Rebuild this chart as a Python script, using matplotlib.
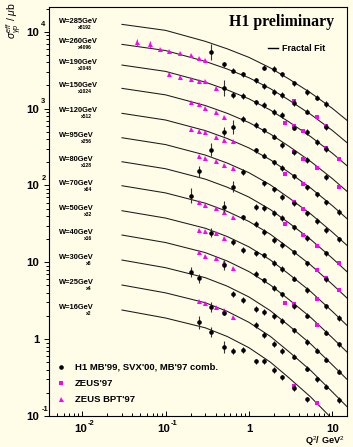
import numpy as np
import matplotlib
matplotlib.use('Agg')
import matplotlib.pyplot as plt
from matplotlib.transforms import blended_transform_factory

# ---------------- data (values as plotted, i.e. already multiplied by the scale factor)
W_GEV = [285, 260, 190, 150, 120, 95, 80, 70, 50, 40, 30, 25, 16]
SCALE = [8192, 4096, 2048, 1024, 512, 256, 128, 64, 32, 16, 8, 4, 2]

FIT_Q2 = [0.03, 0.1, 0.3, 0.55, 1.0, 1.8, 3.0, 5.5, 10.0, 15.0]
FIT = {
    285: [12480, 10430, 7502, 5991, 4644, 3391, 2438, 1603, 1008, 703.6],
    260: [6855, 5697, 4111, 3273, 2521, 1823, 1297, 841.1, 520.0, 360.4],
    190: [3687, 3050, 2207, 1752, 1340, 959.8, 675.0, 432.0, 262.8, 180.6],
    150: [1834, 1510, 1096, 867.9, 658.9, 467.7, 324.9, 205.2, 122.9, 83.83],
    120: [867.9, 710.6, 517.1, 408.1, 307.9, 216.5, 148.7, 92.64, 54.58, 36.97],
    95: [417.7, 340.3, 248.5, 195.5, 146.6, 102.0, 69.30, 42.59, 24.69, 16.60],
    80: [203.5, 165.0, 120.9, 94.80, 70.56, 48.68, 32.68, 19.82, 11.30, 7.541],
    70: [99.15, 79.98, 58.75, 45.95, 33.98, 23.22, 15.41, 9.220, 5.172, 3.426],
    50: [46.90, 37.64, 27.73, 21.63, 15.89, 10.75, 7.054, 4.163, 2.298, 1.511],
    40: [22.64, 18.08, 13.36, 10.39, 7.579, 5.080, 3.295, 1.919, 1.042, 0.6801],
    30: [10.70, 8.508, 6.306, 4.888, 3.541, 2.352, 1.508, 0.8666, 0.4632, 0.2999],
    25: [5.061, 4.004, 2.977, 2.300, 1.655, 1.089, 0.6902, 0.3913, 0.2058, 0.1323],
    16: [2.394, 1.884, 1.404, 1.082, 0.7739, 0.5040, 0.3159, 0.1767, 0.09139, 0.05832],
}

H1_REL_ERR = 0.08
H1 = {
    285: ([1.5, 2.0, 2.5, 3.5, 5.0, 6.5, 8.5], [3421, 3271, 2790, 2131, 1657, 1393, 1153]),
    260: ([0.5, 0.65, 0.85, 1.2, 1.5, 2.0, 2.5, 3.5, 5.0, 8.5],
          [3765, 3126, 2790, 2331, 1978, 1657, 1501, 1181, 915.6, 580.8]),
    190: ([0.65, 0.85, 1.2, 1.5, 2.0, 2.5, 3.5, 5.0, 6.5, 8.5],
          [1501, 1470, 1206, 1113, 910.2, 824.6, 567.0, 500.0, 370.5, 297.7]),
    150: ([0.85, 1.2, 1.5, 2.0, 2.5, 3.5, 5.0, 8.5],
          [733.6, 611.1, 524.5, 431.7, 335.6, 269.7, 216.1, 129.9]),
    120: ([1.2, 1.5, 2.0, 2.5, 3.5, 5.0, 6.5, 8.5, 12],
          [285.5, 244.3, 199.3, 170.0, 131.4, 94.52, 76.63, 60.30, 45.50]),
    95: ([0.85, 1.5, 2.0, 2.5, 3.5, 5.0, 6.5, 8.5, 12],
         [150.8, 106.6, 89.04, 71.32, 58.52, 43.37, 34.43, 26.30, 19.90]),
    80: ([1.2, 1.5, 2.0, 2.5, 3.5, 5.0, 8.5], [52.86, 51.30, 43.76, 37.68, 28.69, 20.88, 13.05]),
    70: ([0.85, 1.2, 1.5, 2.0, 2.5, 3.5, 5.0, 8.5],
         [38.71, 31.48, 24.99, 19.49, 16.78, 13.48, 9.727, 6.005]),
    50: ([0.65, 0.85, 1.2, 1.5, 2.0, 2.5, 3.5, 5.0, 8.5, 12],
         [18.52, 14.45, 13.09, 12.32, 9.815, 8.200, 6.150, 4.398, 2.674, 1.884]),
    40: ([1.2, 1.5, 2.0, 2.5, 3.5, 5.0, 8.5, 12],
         [7.040, 5.864, 4.627, 3.843, 2.699, 2.030, 1.216, 0.8541]),
    30: ([0.65, 0.85, 1.2, 1.5, 2.0, 2.5, 3.5, 5.0, 6.5, 8.5, 12],
         [3.866, 3.230, 2.466, 2.255, 2.000, 1.722, 1.303, 0.9178, 0.7092, 0.5434, 0.3780]),
    25: ([0.5, 1.2, 1.5, 2.0, 2.5, 3.5, 5.0, 6.5, 8.5, 12],
         [2.221, 1.536, 1.132, 0.8644, 0.7071, 0.5943, 0.4148, 0.3001, 0.2419, 0.1615]),
    16: ([0.65, 0.85, 1.2, 1.5, 2.0, 2.5, 3.5, 5.0],
         [0.7071, 0.7222, 0.5148, 0.5148, 0.3968, 0.3188, 0.2313, 0.1640]),
}

# low-Q2 H1 points with large errors: (Q2, value, lower edge, upper edge)
H1_LOWQ = {
    285: ([0.35], [5393], [4283], [6855]),
    190: ([0.5], [1879], [1457], [2352]),
    150: ([0.65], [575.4], [466.7], [710.0]),
    120: ([0.5], [500.0], [439.5], [575.4]),
    95: ([0.35], [293.3], [241.4], [356.3]),
    80: ([0.25, 0.65], [154.0, 96.23], [129.9, 82.12], [180.5, 114.1]),
    70: ([0.2, 0.5], [73.93, 52.86], [59.04, 45.09], [92.56, 62.71]),
    50: ([0.35], [24.26], [21.33], [27.93]),
    40: ([0.5], [9.218], [7.934], [10.70]),
    30: ([0.2, 0.25], [7.541, 6.187], [6.492, 5.375], [8.761, 7.040]),
    25: ([0.35], [2.642], [2.275], [3.070]),
    16: ([0.25, 0.35, 0.5], [1.656, 1.227, 0.7832], [1.355, 1.066, 0.6601], [2.000, 1.438, 0.9458]),
}

ZEUS97 = {
    260: ([3.5, 6.5, 8.5], [1265, 783.4, 601.9]),
    190: ([2.7, 3.5, 4.5, 8.5, 12], [642.9, 593.1, 515.1, 309.5, 220.6]),
    150: ([3.5, 4.5, 6.5, 12], [269.7, 220.6, 170.0, 96.23]),
    120: ([2.7, 4.5], [140.8, 103.4]),
    95: ([3.5, 4.5], [61.39, 49.34]),
    80: ([2.7, 4.5, 6.5, 12], [31.48, 22.92, 16.53, 9.699]),
    70: ([6.5, 8.5, 12], [7.934, 6.187, 4.358]),
    50: ([6.5], [3.328]),
    40: ([2.7, 3.5, 6.5], [2.997, 2.866, 1.527]),
    16: ([3.5, 6.5], [0.2478, 0.1463]),
}

BPT97 = {
    260: ([0.045, 0.065, 0.085, 0.11, 0.15, 0.2, 0.25, 0.3],
          [7278, 6855, 5902, 5609, 5234, 4975, 4588, 4283]),
    190: ([0.11, 0.15, 0.2, 0.25, 0.3, 0.4], [2790, 2597, 2403, 2283, 2283, 1868]),
    150: ([0.2, 0.25, 0.3, 0.4, 0.5], [1206, 1136, 1008, 894.0, 783.4]),
    120: ([0.2, 0.25, 0.3, 0.4, 0.5, 0.65], [537.2, 510.5, 491.1, 430.4, 389.8, 378.4]),
    95: ([0.25, 0.3, 0.4, 0.5, 0.65], [245.0, 230.8, 209.1, 187.1, 167.0]),
    70: ([0.25, 0.3, 0.4, 0.5, 0.65], [60.85, 55.63, 50.38, 45.50, 38.83]),
    50: ([0.25, 0.3, 0.4, 0.5], [26.30, 25.52, 23.82, 20.88]),
    40: ([0.25, 0.3, 0.4, 0.5, 0.65], [13.73, 12.07, 11.26, 10.17, 8.347]),
    25: ([0.25, 0.3, 0.4, 0.5, 0.65], [3.182, 2.997, 2.642, 2.394, 1.958]),
}
# BPT points with visible error bars: (Q2, value, lower edge, upper edge)
BPT97_ERR = ([0.045, 0.065], [7278, 6855], [6592, 6153], [8035, 7637])

LEGEND_LABELS = ["H1 MB'99, SVX'00, MB'97 comb.", "ZEUS'97", "ZEUS BPT'97"]

# ---------------- style
BG = '#fffce8'
MAG = '#ff00ff'
plt.rcParams['font.family'] = ['Liberation Sans', 'DejaVu Sans']
plt.rcParams['mathtext.fontset'] = 'custom'
plt.rcParams['mathtext.rm'] = 'Liberation Sans'
plt.rcParams['mathtext.it'] = 'Liberation Sans:italic'
plt.rcParams['mathtext.bf'] = 'Liberation Sans:bold'

W_PX, H_PX = 353, 447
fig = plt.figure(figsize=(W_PX / 100, H_PX / 100), dpi=100)
fig.patch.set_facecolor(BG)
ax = fig.add_axes([49 / W_PX, 31 / H_PX, 298 / W_PX, 409 / H_PX])
ax.set_facecolor(BG)
ax.set_xscale('log')
ax.set_yscale('log')
ax.set_xlim(0.004, 15.0)
ax.set_ylim(0.1, 2.1e4)

for sp in ax.spines.values():
    sp.set_linewidth(0.8)

ax.tick_params(axis='y', which='major', direction='out', length=3.6, width=0.7, labelleft=False)
ax.tick_params(axis='y', which='minor', direction='out', length=2.0, width=0.7)
ax.tick_params(axis='x', which='major', direction='in', length=3.4, width=0.7, labelbottom=False)
ax.tick_params(axis='x', which='minor', direction='in', length=2.0, width=0.7)

# fit curves
for W in W_GEV:
    ax.plot(FIT_Q2, FIT[W], color='#1a1a1a', lw=0.75, zorder=2)

# ZEUS'97 squares
for W, (q, s) in ZEUS97.items():
    ax.plot(q, s, 's', color=MAG, ms=3.4, mec=MAG, mew=0, zorder=3)

# ZEUS BPT'97 triangles
for W, (q, s) in BPT97.items():
    ax.plot(q, s, '^', color=MAG, ms=3.6, mec=MAG, mew=0, zorder=3)
q, s, lo, hi = BPT97_ERR
s = np.asarray(s)
ax.errorbar(q, s, yerr=[s - np.asarray(lo), np.asarray(hi) - s], fmt='none',
            ecolor=MAG, elinewidth=0.7, capsize=0, zorder=3)

# H1 points
for W, (q, s) in H1.items():
    s = np.asarray(s)
    ax.errorbar(q, s, yerr=s * H1_REL_ERR, fmt='o', color='k', ms=3.3, mew=0,
                elinewidth=0.7, capsize=0, zorder=4)
for W, (q, s, lo, hi) in H1_LOWQ.items():
    s = np.asarray(s)
    ax.errorbar(q, s, yerr=[s - np.asarray(lo), np.asarray(hi) - s], fmt='o', color='k',
                ms=3.3, mew=0, ecolor='#333333', elinewidth=0.8, capsize=0, zorder=4)

# W labels
trans_ay = blended_transform_factory(ax.transAxes, ax.transData)
for W, S in zip(W_GEV, SCALE):
    y0 = FIT[W][0]
    ax.text(0.0346, y0 * 1.078, f'W={W}GeV', transform=trans_ay, ha='left', va='center',
            fontsize=5.4, fontweight='bold')
    ax.text(0.144, y0 * 0.905, f'x{S}', transform=trans_ay, ha='right', va='center',
            fontsize=3.6, fontweight='bold')

# y tick labels (ROOT style)
for v in [0.1, 1, 10, 100, 1000, 10000]:
    e = int(round(np.log10(v)))
    base = '1' if e == 0 else '10'
    ax.text(-0.032, v * 0.97, base, transform=trans_ay, ha='right', va='center',
            fontsize=8.2, fontweight='bold')
    if e not in (0, 1):
        ax.text(-0.026, v * 1.23, str(e), transform=trans_ay, ha='left', va='center',
                fontsize=5.4, fontweight='bold')

# x tick labels
trans_xa = blended_transform_factory(ax.transData, ax.transAxes)
for v in [0.01, 0.1, 1, 10]:
    e = int(round(np.log10(v)))
    if e in (0, 1):
        ax.text(v, -0.033, '1' if e == 0 else '10', transform=trans_xa, ha='center',
                va='center', fontsize=8.2, fontweight='bold')
    else:
        ax.text(v * 1.132, -0.033, '10', transform=trans_xa, ha='right', va='center',
                fontsize=8.2, fontweight='bold')
        ax.text(v * 1.164, -0.0186, str(e), transform=trans_xa, ha='left', va='center',
                fontsize=5.4, fontweight='bold')

# axis titles
fig.text(0.975, 3.5 / H_PX, r'Q$^{2}$/ GeV$^{2}$', ha='right', va='baseline',
         fontsize=6.6, fontweight='bold')
fig.text(14 / W_PX, 1 - 2 / H_PX, r'$\sigma^{eff}_{\gamma p}$ / $\mu$b', rotation=90,
         ha='center', va='top', fontsize=7.5)

# title and fit legend
ax.text(0.781, 0.964, 'H1 preliminary', transform=ax.transAxes, ha='center', va='center',
        fontsize=11.4, fontweight='bold', family='Liberation Serif')
ax.plot([0.734, 0.767], [0.899, 0.899], transform=ax.transAxes, color='k', lw=1.0,
        clip_on=False)
ax.text(0.781, 0.899, 'Fractal Fit', transform=ax.transAxes, ha='left', va='center',
        fontsize=6.5, fontweight='bold')

# data legend
leg_y = [0.119, 0.080, 0.041]
ax.plot([0.0403], [leg_y[0]], 'o', color='k', ms=3.3, mew=0, transform=ax.transAxes, clip_on=False)
ax.plot([0.0403], [leg_y[1]], 's', color=MAG, ms=3.4, mew=0, transform=ax.transAxes, clip_on=False)
ax.plot([0.0403], [leg_y[2]], '^', color=MAG, ms=3.6, mew=0, transform=ax.transAxes, clip_on=False)
for yy, lab in zip(leg_y, LEGEND_LABELS):
    ax.text(0.0872, yy, lab, transform=ax.transAxes, ha='left', va='center',
            fontsize=6.8, fontweight='bold')

fig.savefig('out.png', dpi=100, facecolor=BG)
